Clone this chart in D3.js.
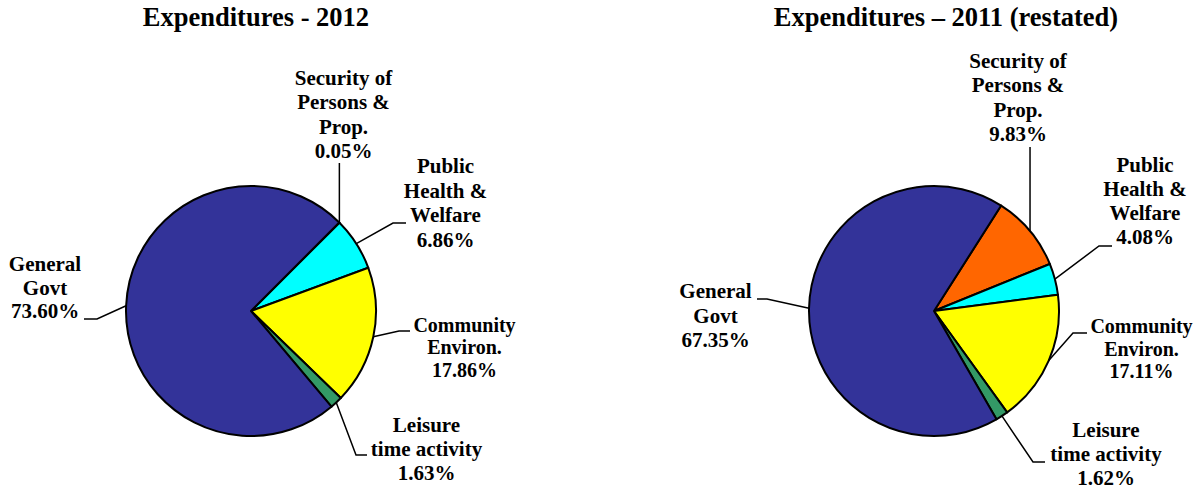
<!DOCTYPE html>
<html lang="en">
<head>
<meta charset="UTF-8">
<title>Expenditures</title>
<script src="https://cdn.jsdelivr.net/npm/d3@7"></script>
<style>
  body{margin:0;background:#fff;}
  svg{display:block;}
  text{font-family:"Liberation Serif","Times New Roman",serif;font-weight:bold;fill:#000;}
</style>
</head>
<body>
<div id="chart"></div>
<script>
// data
var categories = ["Security of Persons & Prop.", "Public Health & Welfare", "Community Environ.", "Leisure time activity", "General Govt"];
var labelLines = [["Security of", "Persons &", "Prop."], ["Public", "Health &", "Welfare"], ["Community", "Environ."], ["Leisure", "time activity"], ["General", "Govt"]];
var values2012 = [0.05, 6.86, 17.86, 1.63, 73.60];
var values2011 = [9.83, 4.08, 17.11, 1.62, 67.35];
var colors = ["#FF6600", "#00FFFF", "#FFFF00", "#339966", "#333399"];
var titles = ["Expenditures - 2012", "Expenditures \u2013 2011 (restated)"];

var w = 1197, h = 489;
var r = 125;

// label placement, relative to pie centre: text x, first baseline, line step, font size, leader elbow and end
var pies = [
  {values: values2012, title: titles[0], cx: 251, cy: 311, titleX: 256, start: 44.9,
   labels: [
     {x: 92.5, y: -226, lh: 24.4, fs: 21, ex: null, ey: -148},
     {x: 194.5, y: -138, lh: 24.5, fs: 21, ex: 142, ey: -88, sx: 155},
     {x: 213.5, y: 21, lh: 22.3, fs: 20, ex: 148, ey: 20, sx: 159},
     {x: 175.5, y: 121.3, lh: 24, fs: 21, ex: 105, ey: 144, sx: 116},
     {x: -206, y: -40, lh: 23.5, fs: 21, ex: -154, ey: 8, sx: -167}
   ]},
  {values: values2011, title: titles[1], cx: 934, cy: 311, titleX: 946, start: 32.5,
   labels: [
     {x: 84, y: -243, lh: 24.3, fs: 21, ex: null, ey: -164},
     {x: 211, y: -139, lh: 24, fs: 21, ex: 165, ey: -65, sx: 178},
     {x: 207.5, y: 22, lh: 22.5, fs: 20, ex: 139, ey: 22, sx: 153},
     {x: 172, y: 126, lh: 24, fs: 21, ex: 99, ey: 151, sx: 111},
     {x: -218.5, y: -13, lh: 24.5, fs: 21, ex: -167, ey: -12, sx: -177}
   ]}
];

var fmt = d3.format(".2f");

var svg = d3.select("#chart").append("svg")
  .attr("width", w)
  .attr("height", h);

var arc = d3.arc().innerRadius(0).outerRadius(r);

pies.forEach(function(p){
  var rad = p.start * Math.PI / 180;
  var pie = d3.pie().sort(null).startAngle(rad).endAngle(rad + 2 * Math.PI);
  var arcs = pie(p.values);

  svg.append("text")
    .attr("x", p.titleX)
    .attr("y", 26)
    .attr("text-anchor", "middle")
    .style("font-size", "26.5px")
    .text(p.title);

  var g = svg.append("g").attr("transform", "translate(" + p.cx + "," + p.cy + ")");

  g.selectAll("path.slice")
    .data(arcs)
    .enter()
    .append("path")
    .attr("class", "slice")
    .attr("d", arc)
    .attr("fill", function(d, i){ return colors[i]; })
    .attr("stroke", "#000")
    .attr("stroke-width", 2)
    .attr("stroke-linejoin", "round");

  // leader lines
  g.selectAll("path.leader")
    .data(arcs)
    .enter()
    .append("path")
    .attr("class", "leader")
    .attr("d", function(d, i){
      var L = p.labels[i];
      var a = (d.startAngle + d.endAngle) / 2;
      var px = r * Math.sin(a), py = -r * Math.cos(a);
      if (L.ex === null) return "M" + px + "," + py + "L" + px + "," + L.ey;
      return "M" + px + "," + py + "L" + L.ex + "," + L.ey + "L" + L.sx + "," + L.ey;
    })
    .attr("fill", "none")
    .attr("stroke", "#000")
    .attr("stroke-width", 1.5);

  var lab = g.selectAll("text.lab")
    .data(arcs)
    .enter()
    .append("text")
    .attr("class", "lab")
    .attr("text-anchor", "middle")
    .style("font-size", function(d, i){ return p.labels[i].fs + "px"; });

  lab.each(function(d, i){
    var L = p.labels[i];
    var lines = labelLines[i].concat([fmt(d.data) + "%"]);
    d3.select(this).selectAll("tspan")
      .data(lines)
      .enter()
      .append("tspan")
      .attr("x", L.x)
      .attr("y", function(s, j){ return L.y + j * L.lh; })
      .text(function(s){ return s; });
  });
});
</script>
</body>
</html>
